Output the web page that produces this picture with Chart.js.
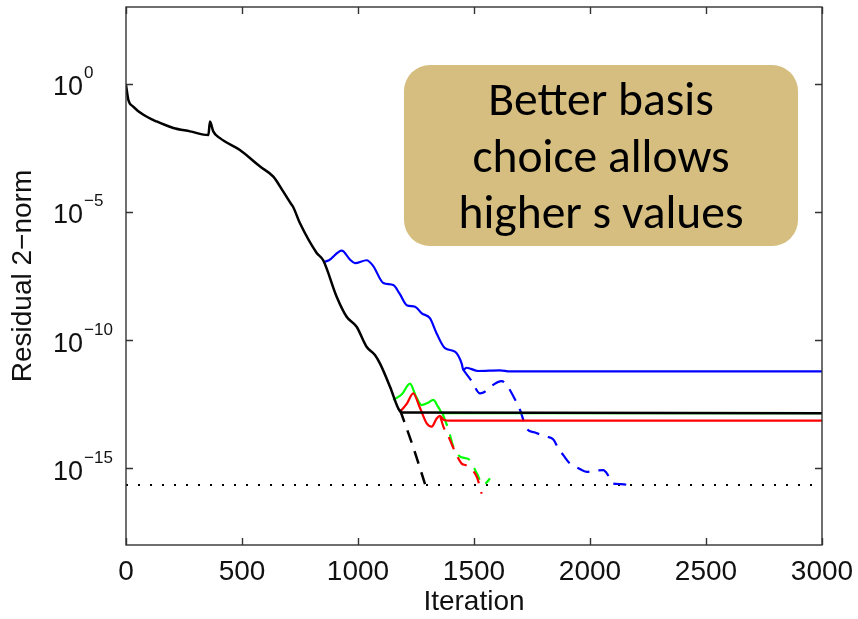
<!DOCTYPE html>
<html>
<head>
<meta charset="utf-8">
<script src="https://cdn.jsdelivr.net/npm/chart.js@4.4.1/dist/chart.umd.min.js"></script>
<style>
  html, body { margin: 0; padding: 0; background: #ffffff; }
  #wrap { width: 858px; height: 619px; position: relative; }
</style>
</head>
<body>
<div id="wrap"><canvas id="c" width="858" height="619"></canvas></div>
<script>
// ---- Data (iteration, residual 2-norm) ----
const xTicks = [0, 500, 1000, 1500, 2000, 2500, 3000];
const yTickExponents = [0, -5, -10, -15];

const blackIter = [0, 10, 31, 75, 132, 204, 276, 355, 362, 376, 405, 491, 578, 635, 678, 714, 720, 750, 822, 850, 908, 951, 994, 1037, 1073, 1095, 1138, 1174, 1188, 3000];
const blackRes  = [9.1e-1, 2.4e-1, 1.3e-1, 6.2e-2, 3.4e-2, 1.9e-2, 1.4e-2, 1.0e-2, 3.4e-2, 1.4e-2, 7.6e-3, 2.6e-3, 5.9e-4, 2.4e-4, 6.2e-5, 1.9e-5, 1.6e-5, 3.6e-6, 2.5e-7, 1.3e-7, 4.9e-9, 8.1e-10, 3.3e-10, 5.5e-11, 2.6e-11, 1.2e-11, 1.5e-12, 2.1e-13, 1.5e-13, 1.4e-13];

const blackDashIter = [1181, 1235, 1289];
const blackDashRes  = [1.9e-13, 7.9e-15, 2.4e-16];

const blueIter = [850, 875, 930, 965, 987, 1037, 1065, 1109, 1152, 1180, 1210, 1246, 1275, 1310, 1339, 1375, 1418, 1447, 1454, 1468, 1518, 1612, 1655, 3000];
const blueRes  = [1.1e-7, 1.3e-7, 3.1e-7, 1.4e-7, 1.0e-7, 1.3e-7, 7.9e-8, 1.7e-8, 1.4e-8, 6.3e-9, 2.3e-9, 2.0e-9, 1.1e-9, 7.1e-10, 1.8e-10, 4.8e-11, 3.5e-11, 1.2e-11, 6.8e-12, 8.3e-12, 6.2e-12, 6.6e-12, 6.0e-12, 6.0e-12];

const blueDashIter = [1454, 1490, 1526, 1550, 1575, 1619, 1640, 1670, 1698, 1727, 1760, 1790, 1813, 1842, 1865, 1885, 1914, 1950, 1986, 2020, 2057, 2080, 2100, 2130, 2158, 2180];
const blueDashRes  = [6.8e-12, 2.5e-12, 8.3e-13, 1.0e-12, 1.6e-12, 2.5e-12, 1.8e-12, 6.3e-13, 1.9e-13, 3.5e-14, 2.5e-14, 2.0e-14, 1.7e-14, 1.3e-14, 5.6e-15, 3.2e-15, 1.5e-15, 1.0e-15, 7.2e-16, 7.9e-16, 8.3e-16, 5.0e-16, 2.5e-16, 2.4e-16, 2.2e-16, 1.4e-16];

const greenIter = [1152, 1190, 1224, 1250, 1274, 1300, 1325, 1345, 1365, 3000];
const greenRes  = [4.6e-13, 7.9e-13, 2.0e-12, 6.3e-13, 2.9e-13, 3.5e-13, 4.6e-13, 2.5e-13, 1.4e-13, 1.4e-13];

const greenDashIter = [1365, 1390, 1411, 1440, 1460, 1483, 1512, 1540, 1555, 1569];
const greenDashRes  = [1.3e-13, 3.2e-14, 6.9e-15, 2.8e-15, 2.5e-15, 2.0e-15, 6.3e-16, 2.2e-16, 2.8e-16, 4.0e-16];

const redIter = [1181, 1210, 1238, 1265, 1296, 1318, 1339, 1353, 1370, 1400, 3000];
const redRes  = [1.6e-13, 3.2e-13, 8.3e-13, 2.5e-13, 5.6e-14, 4.2e-14, 8.7e-14, 1.1e-13, 7.6e-14, 7.1e-14, 7.1e-14];

const redDashIter = [1355, 1368, 1390, 1425, 1447, 1465, 1483, 1512, 1533];
const redDashRes  = [1.0e-13, 4.2e-14, 1.7e-14, 3.2e-15, 1.5e-15, 1.3e-15, 9.8e-16, 4.6e-16, 1.0e-16];

const epsIter = [0, 3000];
const epsRes  = [2.2e-16, 2.2e-16];

const annotationLines = ["Better basis", "choice allows", "higher s values"];
const xTitle = "Iteration";
const yTitle = "Residual 2\u2212norm";

// ---- helpers ----
function pts(xs, ys) { return xs.map((x, i) => ({ x: x, y: ys[i] })); }
const AXIS_FONT = "'Liberation Sans', Arial, Helvetica, sans-serif";

function lineDs(label, xs, ys, color, dash, order, width) {
  return {
    label: label,
    data: pts(xs, ys),
    borderColor: color,
    backgroundColor: color,
    borderWidth: width || 2.2,
    borderDash: dash || [],
    pointRadius: 0,
    cubicInterpolationMode: 'monotone',
    fill: false,
    order: order
  };
}

// ---- plugin: frame, inner tick marks, y tick labels with exponents, annotation ----
const decorPlugin = {
  id: 'decor',
  afterDatasetsDraw(chart) {
    const ctx = chart.ctx;
    const a = chart.chartArea;
    const xs = chart.scales.x, ys = chart.scales.y;
    ctx.save();
    ctx.strokeStyle = '#333333';
    ctx.lineWidth = 1.4;
    ctx.strokeRect(a.left, a.top, a.right - a.left, a.bottom - a.top);
    const tl = 7;
    ctx.beginPath();
    xTicks.forEach(v => {
      const px = Math.round(xs.getPixelForValue(v)) + 0.5;
      ctx.moveTo(px, a.bottom); ctx.lineTo(px, a.bottom - tl);
      ctx.moveTo(px, a.top); ctx.lineTo(px, a.top + tl);
    });
    yTickExponents.forEach(e => {
      const py = Math.round(ys.getPixelForValue(Math.pow(10, e))) + 0.5;
      ctx.moveTo(a.left, py); ctx.lineTo(a.left + tl, py);
      ctx.moveTo(a.right, py); ctx.lineTo(a.right - tl, py);
    });
    ctx.stroke();
    ctx.fillStyle = '#111111';
    ctx.textBaseline = 'alphabetic';
    ctx.textAlign = 'left';
    yTickExponents.forEach(e => {
      const py = ys.getPixelForValue(Math.pow(10, e));
      const base = py + 11.5;
      ctx.font = '27px ' + AXIS_FONT;
      ctx.fillText('10', 53, base);
      const w = ctx.measureText('10').width;
      ctx.font = '17px ' + AXIS_FONT;
      const exp = e === 0 ? '0' : '\u2212' + String(-e);
      ctx.fillText(exp, 53 + w + 1, base - 17);
    });
    ctx.restore();
  },
  afterDraw(chart) {
    const ctx = chart.ctx;
    ctx.save();
    const bx = 404, by = 65, bw = 394, bh = 181, r = 26;
    ctx.fillStyle = 'rgb(214,190,128)';
    ctx.beginPath();
    ctx.moveTo(bx + r, by);
    ctx.lineTo(bx + bw - r, by);
    ctx.arcTo(bx + bw, by, bx + bw, by + r, r);
    ctx.lineTo(bx + bw, by + bh - r);
    ctx.arcTo(bx + bw, by + bh, bx + bw - r, by + bh, r);
    ctx.lineTo(bx + r, by + bh);
    ctx.arcTo(bx, by + bh, bx, by + bh - r, r);
    ctx.lineTo(bx, by + r);
    ctx.arcTo(bx, by, bx + r, by, r);
    ctx.closePath();
    ctx.fill();
    const fam = "Carlito, Lato, 'Open Sans', sans-serif";
    ctx.font = '40px ' + fam;
    const mw = ctx.measureText(annotationLines[1]).width;
    const size = 40 * 257 / mw;
    ctx.font = size.toFixed(1) + 'px ' + fam;
    ctx.fillStyle = '#000000';
    ctx.textAlign = 'center';
    ctx.textBaseline = 'alphabetic';
    const cx = bx + bw / 2;
    const baselines = [115, 171.5, 228];
    annotationLines.forEach((t, i) => ctx.fillText(t, cx, baselines[i]));
    ctx.restore();
  }
};

const ctxEl = document.getElementById('c');
new Chart(ctxEl, {
  type: 'line',
  data: {
    datasets: [
      lineDs('eps', epsIter, epsRes, '#000000', [2, 10], 6, 2),
      lineDs('blue', blueIter, blueRes, '#0000ff', [], 5),
      lineDs('blue dashed', blueDashIter, blueDashRes, '#0000ff', [13, 9], 5),
      lineDs('green', greenIter, greenRes, '#00ff00', [], 4),
      lineDs('green dashed', greenDashIter, greenDashRes, '#00ff00', [13, 9], 4),
      lineDs('red', redIter, redRes, '#ff0000', [], 3),
      lineDs('red dashed', redDashIter, redDashRes, '#ff0000', [13, 9], 3),
      lineDs('black', blackIter, blackRes, '#000000', [], 1, 2.5),
      lineDs('black dashed', blackDashIter, blackDashRes, '#000000', [13, 9], 1, 2.5)
    ]
  },
  options: {
    responsive: false,
    animation: false,
    events: [],
    layout: { padding: { top: 7, right: 36, bottom: 0, left: 0 } },
    plugins: { legend: { display: false }, tooltip: { enabled: false } },
    scales: {
      x: {
        type: 'linear',
        min: 0, max: 3000,
        afterBuildTicks: (s) => { s.ticks = xTicks.map(v => ({ value: v })); },
        afterFit: (s) => { s.height = 74; s.paddingRight = 0; },
        grid: { display: false, drawTicks: false },
        border: { display: false },
        ticks: {
          color: '#111111',
          font: { family: AXIS_FONT, size: 28 },
          padding: 10,
          maxRotation: 0,
          autoSkip: false,
          callback: (v) => String(v)
        },
        title: {
          display: true, text: xTitle, color: '#111111',
          font: { family: AXIS_FONT, size: 28 },
          padding: { top: 0, bottom: 0 }
        }
      },
      y: {
        type: 'logarithmic',
        min: 1e-18, max: 1e3,
        afterBuildTicks: (s) => { s.ticks = yTickExponents.map(e => ({ value: Math.pow(10, e) })); },
        afterFit: (s) => { s.width = 126; },
        grid: { display: false, drawTicks: false },
        border: { display: false },
        ticks: { display: false },
        title: {
          display: true, text: yTitle, color: '#111111',
          font: { family: AXIS_FONT, size: 28 },
          padding: { top: 6, bottom: 0 }
        }
      }
    }
  },
  plugins: [decorPlugin]
});
</script>
</body>
</html>
